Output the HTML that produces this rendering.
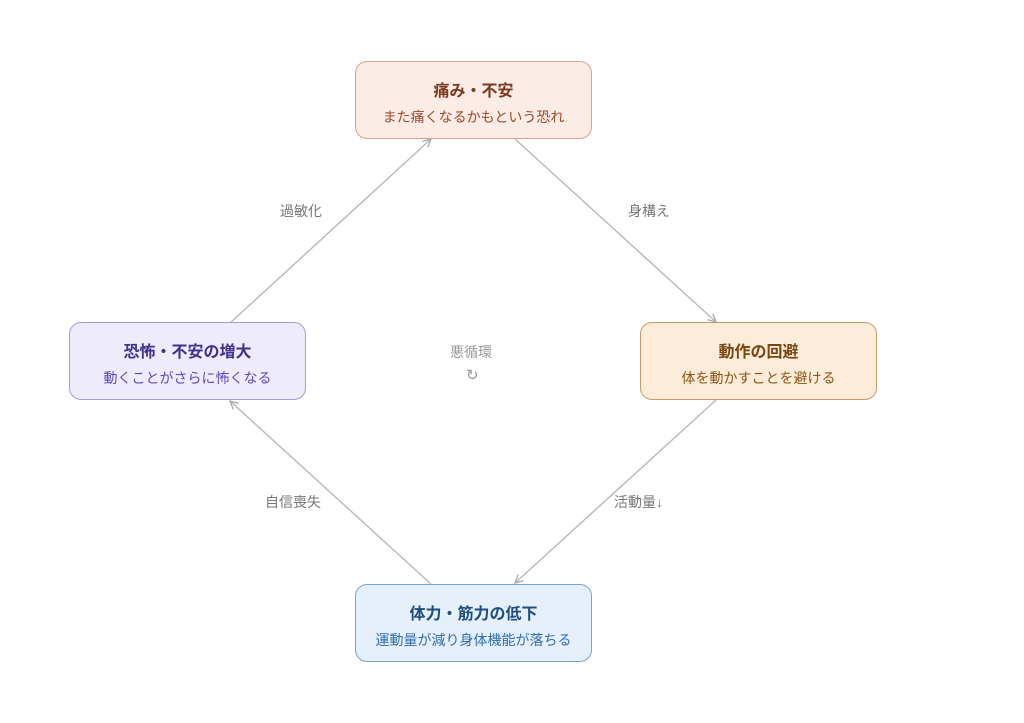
<!DOCTYPE html>
<html><head><meta charset="utf-8"><style>
body{margin:0;width:1024px;height:723px;background:#fff;position:relative;font-family:"Liberation Sans","Noto Sans CJK JP",sans-serif;overflow:hidden}
.b{position:absolute;width:237px;height:78px;border:1px solid;border-radius:12px;box-sizing:border-box;text-align:center}
.t{font-size:16px;font-weight:bold;margin-top:20px;line-height:20px}
.s{font-size:14px;margin-top:6px;line-height:18px}
.l{position:absolute;font-size:14px;color:#777}
</style></head><body>
<svg width="1024" height="723" style="position:absolute;left:0;top:0">
<defs><marker id="a" markerWidth="10" markerHeight="10" refX="9" refY="5" orient="auto" markerUnits="userSpaceOnUse"><path d="M1,1 L9,5 L1,9" fill="none" stroke="#aaa" stroke-width="1.3"/></marker></defs>
<g stroke="#bbb" stroke-width="1.5" fill="none">
<line x1="230" y1="323" x2="431" y2="139" marker-end="url(#a)"/>
<line x1="515" y1="139" x2="716" y2="322" marker-end="url(#a)"/>
<line x1="716" y1="400" x2="515" y2="583" marker-end="url(#a)"/>
<line x1="431" y1="584" x2="230" y2="401" marker-end="url(#a)"/>
</g></svg>
<div class="b" style="left:355px;top:61px;background:#fbece6;border-color:#d9a08c"><div class="t" style="color:#7a3a1e">痛み・不安</div><div class="s" style="color:#a0482a">また痛くなるかもという恐れ</div></div>
<div class="b" style="left:640px;top:322px;background:#fcecd9;border-color:#c99a62"><div class="t" style="color:#7a4510">動作の回避</div><div class="s" style="color:#8f5514">体を動かすことを避ける</div></div>
<div class="b" style="left:355px;top:584px;background:#e6f0fb;border-color:#76a3d3"><div class="t" style="color:#1f4f80">体力・筋力の低下</div><div class="s" style="color:#2f6fb0">運動量が減り身体機能が落ちる</div></div>
<div class="b" style="left:69px;top:322px;background:#eeebfb;border-color:#a59be0"><div class="t" style="color:#3f3390">恐怖・不安の増大</div><div class="s" style="color:#5a4cc0">動くことがさらに怖くなる</div></div>
<div class="l" style="left:280px;top:201px">過敏化</div>
<div class="l" style="left:628px;top:201px">身構え</div>
<div class="l" style="left:614px;top:492px">活動量↓</div>
<div class="l" style="left:265px;top:492px">自信喪失</div>
<div class="l" style="left:450px;top:342px;color:#999">悪循環</div>
<div class="l" style="left:466px;top:366px;color:#999;font-size:15px">↻</div>
</body></html>
